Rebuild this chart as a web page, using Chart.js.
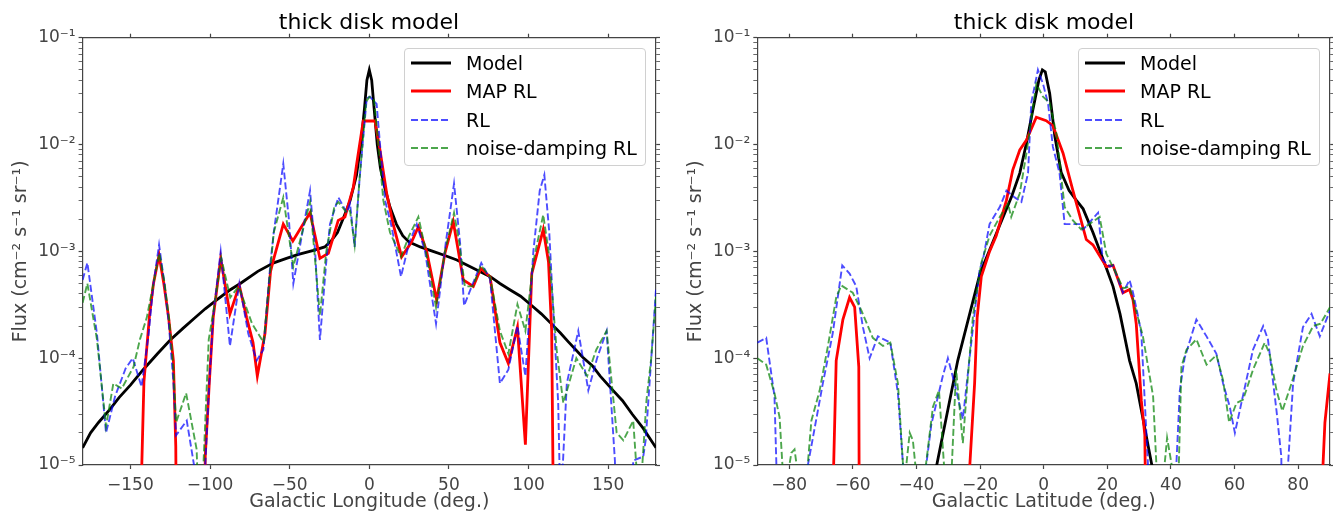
<!DOCTYPE html>
<html>
<head>
<meta charset="utf-8">
<script src="https://cdn.jsdelivr.net/npm/chart.js@4.4.1/dist/chart.umd.min.js"></script>
<style>
body { margin: 0; background: #fff; width: 1333px; height: 513px; position: relative; overflow: hidden; font-family: "DejaVu Sans", sans-serif; }
canvas { position: absolute; top: 0; }
.title { position: absolute; top: 9px; width: 400px; font-size: 22px; line-height: 26px; color: #000; text-align: center; }
.legend { position: absolute; top: 48px; width: 242px; height: 118px; box-sizing: border-box; border: 1px solid #d0d0d0; border-radius: 4px; background: rgba(255,255,255,0.8); }
.legend svg { position: absolute; left: 5px; }
.legend span { position: absolute; left: 61px; font-size: 19px; line-height: 22px; color: #000; white-space: nowrap; }
</style>
</head>
<body>
<canvas id="lon" width="665" height="513" style="left:0"></canvas>
<canvas id="lat" width="658" height="513" style="left:675px"></canvas>
<div class="title" style="left:169px">thick disk model</div>
<div class="title" style="left:844px">thick disk model</div>
<div class="legend" id="legLon" style="left:404px"></div>
<div class="legend" id="legLat" style="left:1078px"></div>
<script>
// ---- longitude panel ----
const lonTicks = [-150, -100, -50, 0, 50, 100, 150];
const lonModel = [-180, -175, -170, -163, -157, -150, -142, -133, -125, -117, -110, -103, -96, -88, -81, -70, -60, -52, -45, -35, -28, -24, -20, -16, -12, -8, -5, -3, -1.5, 0, 1.5, 3, 5, 7, 10, 13, 17, 21, 25, 32, 40, 47, 55, 65, 70, 76, 82, 88, 95, 101, 108, 115, 120, 125, 134, 140, 145, 153, 159, 165, 172, 180];
const fluxLonModel = [1.45e-5, 2e-5, 2.5e-5, 3.3e-5, 4.3e-5, 5.6e-5, 7.8e-5, 1.1e-4, 1.48e-4, 1.9e-4, 2.35e-4, 2.9e-4, 3.5e-4, 4.3e-4, 5e-4, 6.5e-4, 7.8e-4, 8.6e-4, 9.3e-4, 1.02e-3, 1.1e-3, 1.25e-3, 1.5e-3, 2.1e-3, 3.0e-3, 5.2e-3, 0.011, 0.022, 0.04, 0.05, 0.04, 0.022, 0.01, 6e-3, 3.8e-3, 2.6e-3, 1.8e-3, 1.4e-3, 1.22e-3, 1.1e-3, 1.0e-3, 9.2e-4, 8.3e-4, 7e-4, 6.4e-4, 5.8e-4, 5e-4, 4.4e-4, 3.8e-4, 3.2e-4, 2.6e-4, 2.05e-4, 1.72e-4, 1.42e-4, 1.02e-4, 8.5e-5, 6.8e-5, 5e-5, 4e-5, 3e-5, 2.2e-5, 1.45e-5];

const lonMap = [-145, -143, -141.5, -138, -135.5, -132, -129, -126, -123, -121.5, -120.5, -104.5, -103, -100.5, -98, -93.3, -87.5, -81.6, -77, -73, -70.3, -65.5, -62, -60, -54, -48, -37.2, -31, -25.7, -19.5, -15.3, -10, -7.9, -3.8, 0, 3.6, 6.7, 10.9, 15, 20.3, 26.6, 30.8, 36, 42.3, 47.5, 52.7, 59, 65.3, 70, 75.8, 82, 87.3, 93, 98, 102, 109.2, 112.5, 114.5, 115.3, 116];
const fluxLonMap = [1e-7, 8e-6, 6e-5, 2.5e-4, 5e-4, 9.2e-4, 5e-4, 2.4e-4, 9.5e-5, 1.5e-5, 1e-7, 1e-7, 1.2e-5, 5.7e-5, 2.4e-4, 8.6e-4, 2.6e-4, 4.8e-4, 2.4e-4, 1.4e-4, 6.8e-5, 1.7e-4, 6.5e-4, 8.5e-4, 1.8e-3, 1.25e-3, 2.3e-3, 8.6e-4, 9.6e-4, 1.95e-3, 2.1e-3, 4e-3, 6.6e-3, 0.0166, 0.0166, 0.0166, 8.9e-3, 3.5e-3, 1.8e-3, 8.9e-4, 1.23e-3, 1.7e-3, 1e-3, 3.5e-4, 9.6e-4, 1.9e-3, 5.4e-4, 4.7e-4, 6.9e-4, 5.8e-4, 1.4e-4, 8.9e-5, 1.95e-4, 1.55e-5, 6.2e-4, 1.6e-3, 8e-4, 1.8e-4, 1e-5, 1e-7];

const lonRL = [-180, -177, -171, -165.3, -159.6, -153, -148.5, -143, -138.5, -135.5, -132, -129, -126, -123, -121.3, -114.6, -109, -106, -103, -100.5, -98, -93.3, -87.5, -81.6, -76, -70.7, -66.5, -62, -60, -54, -50.5, -47.7, -42, -37.2, -34, -31, -27, -24.7, -19.4, -14.2, -12.1, -9.2, -6, -1.6, 0.4, 4.6, 7, 9.9, 14, 19.9, 25, 29.8, 35, 41.9, 48, 53.2, 57, 59.5, 65, 70.3, 75.8, 82, 87.3, 93, 98, 103, 107, 109.9, 113, 116, 118.6, 120.8, 121.5, 124, 131.2, 137.5, 143, 149, 154.2, 156, 164, 165.7, 172, 173.5, 180];
const fluxLonRL = [5.4e-4, 7.8e-4, 1.7e-4, 2e-5, 4.4e-5, 8e-5, 1e-4, 5.4e-5, 1.7e-4, 5e-4, 1.15e-3, 5.5e-4, 2.2e-4, 6e-5, 1.9e-5, 2.6e-5, 8e-6, 1e-6, 1e-5, 5.7e-5, 2.5e-4, 1e-3, 1.3e-4, 5e-4, 1.7e-4, 9.5e-5, 1.2e-4, 8e-4, 1.5e-3, 6.6e-3, 2e-3, 5e-4, 1.5e-3, 3.7e-3, 1e-3, 1.48e-4, 8e-4, 1.8e-3, 3.2e-3, 2.3e-3, 2.8e-3, 1.1e-3, 5e-3, 0.027, 0.028, 0.024, 9e-3, 3e-3, 1.7e-3, 5.8e-4, 1.2e-3, 1.8e-3, 1e-3, 2.1e-4, 1.2e-3, 4.3e-3, 1.2e-3, 3.1e-4, 5e-4, 7.8e-4, 5.5e-4, 5.8e-5, 7.8e-5, 2e-4, 6.8e-5, 1e-3, 3.7e-3, 5.2e-3, 1.5e-3, 2e-4, 3.8e-5, 1e-6, 1e-5, 5.8e-5, 1.8e-4, 5e-5, 1e-4, 1.8e-4, 1.1e-5, 1e-6, 1e-6, 1.1e-5, 1.2e-5, 1.7e-5, 4.4e-4];

const lonND = [-180, -177, -171, -165.3, -160.7, -155.4, -148, -144, -139.7, -135.5, -131.8, -128.5, -125.5, -123, -121.3, -115, -108.4, -106, -105, -100.8, -96.7, -92.9, -87.3, -82, -73.6, -66.3, -60, -54, -47.7, -37.2, -31, -27, -22, -19.4, -14.2, -12.1, -9.2, -6, -2, 0, 3, 6, 8.8, 13, 19.9, 25, 30.8, 35, 41.9, 47.5, 53.2, 56.5, 60, 65, 70, 75.8, 82, 87.3, 93, 98, 103, 109.2, 113, 117.6, 121.8, 130, 136.8, 142.5, 149, 155.3, 159.5, 165.7, 169, 171, 174, 177, 180];
const fluxLonND = [3.3e-4, 5e-4, 1.5e-4, 2.3e-5, 5.8e-5, 5.2e-5, 8.3e-5, 1.5e-4, 2.4e-4, 5e-4, 9.6e-4, 5e-4, 2.2e-4, 8e-5, 2.5e-5, 4.7e-5, 1.4e-5, 1e-6, 5e-6, 1.5e-4, 3.5e-4, 8.6e-4, 3.7e-4, 4.7e-4, 2.1e-4, 1.4e-4, 1.5e-3, 3.2e-3, 7.2e-4, 2.9e-3, 2.5e-4, 1e-3, 2.6e-3, 2.9e-3, 2.3e-3, 2.4e-3, 1.15e-3, 5e-3, 0.025, 0.028, 0.026, 9e-3, 3e-3, 1.5e-3, 8.9e-4, 1.4e-3, 2.1e-3, 1.1e-3, 3e-4, 1e-3, 2.3e-3, 1.2e-3, 4.7e-4, 4.7e-4, 7.4e-4, 5.8e-4, 1.8e-4, 1.1e-4, 3.2e-4, 1.8e-4, 8e-4, 2.2e-3, 9e-4, 1.2e-4, 3.8e-5, 1e-4, 6.8e-5, 1.2e-4, 1.8e-4, 2e-5, 1.7e-5, 2.6e-5, 5e-6, 8e-6, 4e-5, 1e-4, 3.8e-4];

// ---- latitude panel ----
const latTicks = [-80, -60, -40, -20, 0, 20, 40, 60, 80];
const latModel = [-35, -33.6, -27, -20, -14, -10, -7.5, -5.5, -3.4, -1.5, -0.4, 0.5, 1.9, 3.5, 5.5, 8, 10.3, 12.4, 15.5, 19.7, 21.8, 24, 27, 29.1, 34, 35];
const fluxLatModel = [8e-6, 1e-5, 9.5e-5, 6.2e-4, 1.7e-3, 3.3e-3, 5.4e-3, 0.01, 0.021, 0.04, 0.05, 0.048, 0.03, 0.012, 5.5e-3, 3.7e-3, 3e-3, 2.5e-3, 1.5e-3, 7e-4, 4.7e-4, 2.6e-4, 9.5e-5, 5.8e-5, 1e-5, 8e-6];

const latMap = [-67, -66, -65.2, -63.1, -61, -59.4, -58.1, -57.8, -23.5, -23.2, -21.7, -20.9, -19.6, -17, -14.9, -11.7, -9.7, -7.5, -5.4, -2.3, 0.8, 2.9, 6.1, 9.2, 13.4, 15.5, 19.7, 21.8, 24.9, 27, 28.1, 29.1, 30.7, 31.8, 32.3, 87.5, 87.8, 88.4, 90];
const fluxLatMap = [1e-7, 1e-5, 9.5e-5, 2.3e-4, 3.7e-4, 3e-4, 8.3e-5, 1e-7, 1e-7, 1e-5, 5.8e-5, 2.4e-4, 5.8e-4, 1e-3, 1.4e-3, 3e-3, 5.8e-3, 8.9e-3, 0.011, 0.018, 0.0167, 0.015, 8.3e-3, 3.7e-3, 1.29e-3, 1.15e-3, 7.2e-4, 7.4e-4, 4.1e-4, 4.4e-4, 3.5e-4, 2.1e-4, 4e-5, 1.9e-5, 1e-6, 1e-7, 1e-5, 2.5e-5, 7.2e-5];

const latRL = [-90, -87.2, -84.6, -84, -83, -75, -74.1, -69.4, -66.3, -63.3, -61, -58.9, -56.8, -54.7, -52.1, -48.2, -45.8, -44.2, -43, -38, -36.9, -35.3, -31.7, -30.1, -28, -25.4, -22.2, -20.1, -19.1, -17, -13.8, -11.7, -9.1, -7, -4.9, -3.9, -1.8, -0.2, 1.4, 2.9, 5, 6.6, 8.2, 11.3, 12.4, 17.1, 18.6, 20.8, 21.8, 24.9, 27, 28.1, 29.7, 30.7, 32.8, 33.5, 41, 41.7, 42.8, 44.3, 48, 51.2, 54.3, 56.4, 58.5, 60.1, 61.6, 65.8, 69, 70.5, 73.2, 74.7, 75.3, 76, 76.8, 78.4, 81.5, 84.2, 86.8, 90];
const fluxLatRL = [1.4e-4, 1.55e-4, 4.4e-5, 1e-5, 1e-7, 1e-7, 1e-5, 5.8e-5, 1.7e-4, 7.4e-4, 6.2e-4, 4.7e-4, 1.95e-4, 1e-4, 1.6e-4, 1.4e-4, 4.7e-5, 1e-5, 1e-7, 1e-7, 1e-5, 2.4e-5, 6.8e-5, 1e-4, 5.8e-5, 2.7e-5, 1.95e-4, 6.8e-4, 8.3e-4, 1.8e-3, 2.6e-3, 3.7e-3, 3.2e-3, 2.9e-3, 5.4e-3, 0.0245, 0.05, 0.037, 0.024, 9.5e-3, 5.4e-3, 1.8e-3, 1.8e-3, 1.8e-3, 1.6e-3, 2.3e-3, 8.3e-4, 7.2e-4, 7.4e-4, 4.1e-4, 5.4e-4, 4.1e-4, 2.45e-4, 1.7e-4, 1e-5, 1e-7, 1e-7, 1e-5, 5e-5, 1e-4, 2.3e-4, 1.6e-4, 1.1e-4, 5.8e-5, 3.5e-5, 2e-5, 3.2e-5, 1.2e-4, 2e-4, 1.5e-4, 3.2e-5, 1.2e-5, 1e-7, 1e-7, 1e-5, 5.8e-5, 1.95e-4, 2.6e-4, 1.6e-4, 2.8e-4];

const latND = [-90, -87.2, -84.6, -83, -81.5, -79.3, -78.3, -77.2, -75, -73, -70.4, -67.8, -65.2, -63.6, -60, -57.3, -53.7, -50.5, -48.2, -45.8, -44.2, -43.5, -42.1, -41.1, -40, -37.4, -34.8, -32.9, -31.1, -29, -27.5, -25.4, -23.8, -22.2, -19.6, -17, -13.8, -11.2, -10.2, -7.5, -5.4, -2.3, -0.2, 1.9, 4, 6.6, 9.2, 11.8, 17.6, 19.7, 22.8, 25, 27, 31.2, 34.4, 35.6, 37.7, 38.8, 40.8, 42.4, 43.3, 44.9, 48, 51.2, 54.3, 56.4, 58.3, 60.6, 62.7, 65.8, 69.5, 71, 73.2, 75, 77.9, 81.5, 84.7, 87, 90];
const fluxLatND = [1e-4, 8.7e-5, 4.7e-5, 2.8e-5, 5e-6, 1.3e-5, 1.4e-5, 8e-6, 5e-6, 2.6e-5, 5e-5, 1.3e-4, 3.7e-4, 4.8e-4, 4.1e-4, 2.8e-4, 1.55e-4, 1.3e-4, 1.4e-4, 5.8e-5, 1e-5, 8e-6, 2e-5, 1.7e-5, 8e-6, 8e-6, 3.5e-5, 5e-5, 8e-6, 8e-6, 7.8e-5, 1.6e-5, 6.8e-5, 2.5e-4, 7.8e-4, 1.4e-3, 2.1e-3, 2.8e-3, 2.1e-3, 3.5e-3, 8.3e-3, 0.037, 0.028, 0.0245, 0.0127, 2.6e-3, 1.95e-3, 1.6e-3, 2.1e-3, 9.5e-4, 6.2e-4, 4.5e-4, 4.7e-4, 1.6e-4, 4.4e-5, 8e-6, 8e-6, 1.8e-5, 8e-6, 8e-6, 8.3e-5, 1.2e-4, 1.5e-4, 8.7e-5, 1.07e-4, 6.2e-5, 2.5e-5, 3.8e-5, 4.1e-5, 7.8e-5, 1.4e-4, 1.1e-4, 5e-5, 3.2e-5, 5.8e-5, 1.3e-4, 2e-4, 2.1e-4, 3e-4];

const seriesNames = ['Model', 'MAP RL', 'RL', 'noise-damping RL'];
const seriesColors = ['#000000', '#ff0000', 'rgba(0,0,255,0.7)', 'rgba(0,128,0,0.7)'];
const seriesDash = [[], [], [7, 3], [7, 3]];
const seriesWidth = [2.8, 2.8, 1.9, 1.9];

Chart.defaults.font.family = '"DejaVu Sans", sans-serif';

const SUP = { '-': '\u207b', '0': '\u2070', '1': '\u00b9', '2': '\u00b2', '3': '\u00b3', '4': '\u2074', '5': '\u2075', '6': '\u2076', '7': '\u2077', '8': '\u2078', '9': '\u2079' };
function logLabel(v) {
  const e = Math.log10(v);
  if (Math.abs(e - Math.round(e)) > 1e-6) return '';
  return '10' + String(Math.round(e)).split('').map(c => SUP[c]).join('');
}
function minusLabel(v) {
  return v < 0 ? '\u2212' + Math.abs(v) : String(v);
}
function keepIntegerMantissa(scale) {
  scale.ticks = scale.ticks.filter(t => {
    const m = t.value / Math.pow(10, Math.floor(Math.log10(t.value) + 1e-9));
    return Math.abs(m - Math.round(m)) < 1e-6;
  });
}
const axisColor = '#444';

function pts(xs, ys) { return xs.map((x, i) => ({ x: x, y: ys[i] })); }

function makeChart(id, xs, ys, xMin, xMax, xTickValues, xTitle, yWidth, y2Width, padRight) {
  const datasets = seriesNames.map((name, i) => ({
    label: name,
    data: pts(xs[i], ys[i]),
    borderColor: seriesColors[i],
    borderWidth: seriesWidth[i],
    borderDash: seriesDash[i],
    pointRadius: 0,
    tension: 0,
    fill: false,
    order: 4 - i
  }));
  const setXTicks = s => { s.ticks = xTickValues.map(v => ({ value: v })); };
  const grid = { drawOnChartArea: false, tickLength: 4, tickColor: axisColor, tickWidth: ctx => (ctx.tick && ctx.tick.major ? 1.2 : 0.8) };
  const border = { display: true, color: axisColor, width: 1.2 };
  return new Chart(document.getElementById(id).getContext('2d'), {
    type: 'line',
    data: { datasets: datasets },
    options: {
      responsive: false,
      animation: false,
      devicePixelRatio: 1,
      layout: { padding: { top: 33.7, left: 0, right: padRight, bottom: 0 } },
      plugins: { legend: { display: false }, tooltip: { enabled: false }, title: { display: false } },
      scales: {
        x: {
          type: 'linear', position: 'bottom', min: xMin, max: xMax,
          afterBuildTicks: setXTicks,
          ticks: { callback: minusLabel, color: axisColor, font: { size: 17 }, padding: 6, maxRotation: 0, autoSkip: false },
          grid: { drawOnChartArea: false, tickLength: 4, tickColor: axisColor, tickWidth: 1.2 },
          border: border,
          title: { display: true, text: xTitle, color: axisColor, font: { size: 19 }, padding: { top: 0, bottom: 0 } },
          afterFit: s => { s.height = 48; }
        },
        x2: {
          type: 'linear', position: 'top', min: xMin, max: xMax,
          afterBuildTicks: setXTicks,
          ticks: { display: false },
          grid: { drawOnChartArea: false, tickLength: 4, tickColor: axisColor, tickWidth: 1.2 },
          border: border,
          afterFit: s => { s.height = 4; }
        },
        y: {
          type: 'logarithmic', position: 'left', min: 1e-5, max: 1e-1,
          ticks: { autoSkip: false, callback: logLabel, color: axisColor, font: { size: 17 }, padding: 3 },
          afterBuildTicks: keepIntegerMantissa,
          grid: grid,
          border: border,
          title: { display: true, text: 'Flux (cm\u207b\u00b2 s\u207b\u00b9 sr\u207b\u00b9)', color: axisColor, font: { size: 19 }, padding: { top: 10, bottom: 0 } },
          afterFit: s => { s.width = yWidth; }
        },
        y2: {
          type: 'logarithmic', position: 'right', min: 1e-5, max: 1e-1,
          ticks: { autoSkip: false, display: false },
          afterBuildTicks: keepIntegerMantissa,
          grid: grid,
          border: border,
          afterFit: s => { s.width = y2Width; }
        }
      }
    }
  });
}

makeChart('lon', [lonModel, lonMap, lonRL, lonND], [fluxLonModel, fluxLonMap, fluxLonRL, fluxLonND],
  -180, 180, lonTicks, 'Galactic Longitude (deg.)', 82.6, 4, 5);
makeChart('lat', [latModel, latMap, latRL, latND], [fluxLatModel, fluxLatMap, fluxLatRL, fluxLatND],
  -90, 90, latTicks, 'Galactic Latitude (deg.)', 82.3, 3, 0);

// legends (HTML, placed inside the plot areas like the original)
const legendRowTop = [15, 43.4, 71.7, 100];
function buildLegend(id) {
  const box = document.getElementById(id);
  seriesNames.forEach((name, i) => {
    const cy = legendRowTop[i];
    const svg = document.createElementNS('http://www.w3.org/2000/svg', 'svg');
    svg.setAttribute('width', '44');
    svg.setAttribute('height', '8');
    svg.style.top = (cy - 5) + 'px';
    const ln = document.createElementNS('http://www.w3.org/2000/svg', 'line');
    ln.setAttribute('x1', '1'); ln.setAttribute('x2', '41');
    ln.setAttribute('y1', '4'); ln.setAttribute('y2', '4');
    ln.setAttribute('stroke', seriesColors[i]);
    ln.setAttribute('stroke-width', seriesWidth[i]);
    if (seriesDash[i].length) ln.setAttribute('stroke-dasharray', seriesDash[i].join(' '));
    svg.appendChild(ln);
    box.appendChild(svg);
    const t = document.createElement('span');
    t.textContent = name;
    t.style.top = (cy - 12) + 'px';
    box.appendChild(t);
  });
}
buildLegend('legLon');
buildLegend('legLat');
</script>
</body>
</html>
